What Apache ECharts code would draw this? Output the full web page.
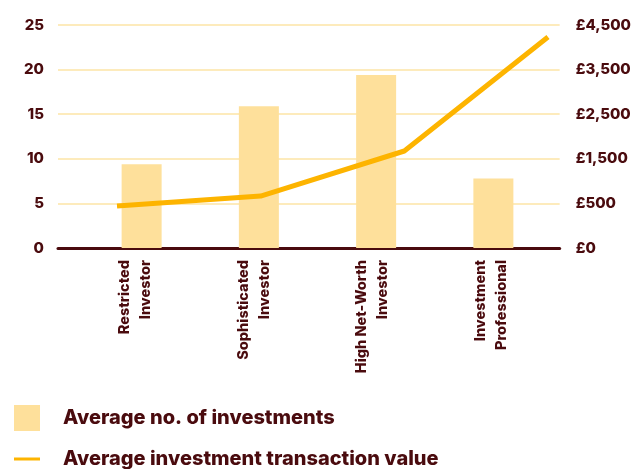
<!DOCTYPE html>
<html>
<head>
<meta charset="utf-8">
<script src="https://cdn.jsdelivr.net/npm/echarts@6/dist/echarts.min.js"></script>
<style>
  html, body { margin: 0; padding: 0; background: #ffffff; }
  #chart { width: 634px; height: 469px; }
</style>
</head>
<body>
<div id="chart"></div>
<script>
// Investor categories (x axis)
const categories = ['Restricted\nInvestor', 'Sophisticated\nInvestor', 'High Net-Worth\nInvestor', 'Investment\nProfessional'];
// Average number of investments per investor type (left axis)
const avgInvestments = [9.4, 15.9, 19.4, 7.8];
// Average investment transaction value in £ (right axis)
const avgTransactionValue = [440, 665, 1675, 4230];
// Left axis ticks
const countTicks = [0, 5, 10, 15, 20, 25];
// Right axis tick labels, bottom to top
const valueTickLabels = ['£0', '£500', '£1,500', '£2,500', '£3,500', '£4,500'];

const seriesNames = ['Average no. of investments', 'Average investment transaction value'];

const ink = '#4a0b0e';
const barColor = '#fee09b';
const lineColor = '#fdb400';
const gridColor = '#fde4a6';
const font = 'Inter';
const weight = 800;

const valueMin = -500, valueStep = 1000;
const valueMax = valueMin + valueStep * (valueTickLabels.length - 1);

const chart = echarts.init(document.getElementById('chart'), null, { renderer: 'canvas' });

const gridBox = { top: 25, bottom: 221 };
const legendText = { color: ink, fontSize: 20, fontWeight: weight, fontFamily: font, padding: [0, 0, 0, 18] };

chart.setOption({
  animation: false,
  backgroundColor: '#ffffff',
  textStyle: { fontFamily: font },
  grid: [
    { left: 58, right: 64, ...gridBox },   // frame: axes and gridlines
    { left: 83, right: 82, ...gridBox },   // bars
    { left: 117, right: 86, ...gridBox },  // line
    { left: 76, right: 84, ...gridBox }    // category labels
  ],
  legend: [
    {
      data: [seriesNames[0]],
      left: 14, top: 405, padding: 0,
      icon: 'rect', itemWidth: 26, itemHeight: 26,
      textStyle: legendText
    },
    {
      data: [seriesNames[1]],
      left: 14, top: 449, padding: 0,
      icon: 'rect', itemWidth: 26, itemHeight: 3,
      textStyle: legendText
    }
  ],
  xAxis: [
    {
      gridIndex: 0, type: 'category', data: categories,
      axisLine: { show: true, lineStyle: { color: ink, width: 3 } },
      axisTick: { show: false }, axisLabel: { show: false }, splitLine: { show: false }
    },
    {
      gridIndex: 1, type: 'category', data: categories, show: false
    },
    {
      gridIndex: 2, type: 'category', data: categories, boundaryGap: false, show: false
    },
    {
      gridIndex: 3, type: 'category', data: categories,
      axisLine: { show: false }, axisTick: { show: false },
      axisLabel: {
        rotate: 90, margin: 12, color: ink, fontSize: 14.5, fontWeight: weight,
        fontFamily: font, lineHeight: 21, interval: 0
      }
    }
  ],
  yAxis: [
    {
      gridIndex: 0, type: 'value', position: 'left',
      min: countTicks[0], max: countTicks[countTicks.length - 1], interval: countTicks[1] - countTicks[0],
      axisLine: { show: false }, axisTick: { show: false },
      axisLabel: { margin: 14, color: ink, fontSize: 15, fontWeight: weight, fontFamily: font },
      splitLine: { show: true, lineStyle: { color: gridColor, width: 1.5 } }
    },
    {
      gridIndex: 0, type: 'value', position: 'right',
      min: valueMin, max: valueMax, interval: valueStep,
      axisLine: { show: false }, axisTick: { show: false }, splitLine: { show: false },
      axisLabel: {
        margin: 16, color: ink, fontSize: 15, fontWeight: weight, fontFamily: font,
        formatter: v => valueTickLabels[Math.round((v - valueMin) / valueStep)]
      }
    },
    {
      gridIndex: 1, type: 'value', show: false,
      min: countTicks[0], max: countTicks[countTicks.length - 1]
    },
    {
      gridIndex: 2, type: 'value', show: false,
      min: valueMin, max: valueMax
    },
    {
      gridIndex: 3, type: 'value', show: false
    }
  ],
  series: [
    {
      name: seriesNames[0], type: 'bar',
      xAxisIndex: 1, yAxisIndex: 2,
      data: avgInvestments, barWidth: 40,
      itemStyle: { color: barColor }
    },
    {
      name: seriesNames[1], type: 'line',
      xAxisIndex: 2, yAxisIndex: 3,
      data: avgTransactionValue,
      symbol: 'none',
      lineStyle: { color: lineColor, width: 5, cap: 'butt', join: 'round' },
      itemStyle: { color: lineColor },
      z: 5
    }
  ]
});
</script>
</body>
</html>
